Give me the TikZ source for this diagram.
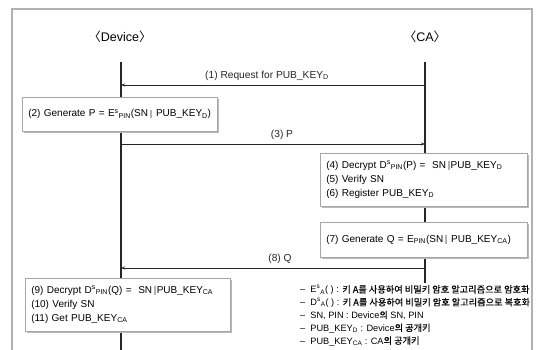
\documentclass[tikz,border=0pt]{standalone}
\usepackage{fontspec}
\setmainfont{Liberation Sans}
\newfontfamily\kr{Noto Sans CJK KR}[FakeBold=0.5]
\newfontfamily\krb{Noto Sans CJK KR}
\usetikzlibrary{shadows,arrows.meta}
\newcommand{\pbar}{\mbox{\kern1.5pt\textcolor{gray!60}{\rule[-0.12em]{0.3pt}{0.85em}\kern1pt\rule[-0.12em]{0.3pt}{0.85em}}\kern1.5pt}}
\tikzset{
  head/.style={font=\fontsize{12.5}{14}\selectfont, inner sep=0pt},
  life/.style={line width=1.3pt, black!85},
  msg/.style={line width=0.9pt, black!85, -{Stealth[length=4pt,width=3pt]}},
  lbl/.style={font=\fontsize{10.2}{12}\selectfont, inner sep=1pt},
  boxnode/.style={draw=gray!70, fill=white, line width=0.6pt,
    drop shadow={shadow xshift=1.5pt, shadow yshift=-1.5pt, fill=gray!55, opacity=1},
    font=\fontsize{10}{14}\selectfont, align=left, anchor=north west,
    inner xsep=6pt, inner ysep=0pt},
  leg/.style={font=\fontsize{9.2}{12.8}\selectfont, align=left, anchor=north west, inner sep=0pt}
}
\begin{document}
\begin{tikzpicture}[x=1pt,y=-1pt]
\useasboundingbox (0,0) rectangle (541,349);
\draw[gray!60, line width=1.2pt] (12,360) -- (12,9) -- (532,9) -- (532,360);
\node[head] (dev) at (120,37) {{\krb 〈}Device{\krb 〉}};
\node[head] (ca) at (425,37) {{\krb 〈}CA{\krb 〉}};
\coordinate (dtop) at (121,62);
\coordinate (dbot) at (121,352);
\coordinate (ctop) at (425,62);
\coordinate (cbot) at (425,283);
\draw[life] (dtop) -- (dbot);
\draw[life] (ctop) -- (cbot);
% messages
\coordinate (c1) at (425,85); \coordinate (d1) at (121,85);
\draw[msg] (c1) -- node[lbl, above=3pt, xshift=-6pt] {(1) Request for PUB\_KEY\textsubscript{D}} (d1);
\coordinate (d3) at (121,144); \coordinate (c3) at (425,144);
\draw[msg] (d3) -- node[lbl, above=3pt, xshift=9pt] {(3) P} (c3);
\coordinate (c8) at (425,268); \coordinate (d8) at (121,268);
\draw[msg] (c8) -- node[lbl, above=3pt, xshift=7pt] {(8) Q} (d8);
% boxes
\node[boxnode, text width=183pt, minimum height=34pt] (b2) at (22,97)
  {(2) Generate P = E\textsuperscript{s}\textsubscript{PIN}(SN\pbar\ PUB\_KEY\textsubscript{D})};
\node[boxnode, text width=195pt, minimum height=53pt] (b4) at (320,153)
  {(4) Decrypt D\textsuperscript{s}\textsubscript{PIN}(P) = \ SN\pbar PUB\_KEY\textsubscript{D}\\
   (5) Verify SN\\
   (6) Register PUB\_KEY\textsubscript{D}};
\node[boxnode, text width=195pt, minimum height=35pt] (b7) at (320,222)
  {(7) Generate Q = E\textsubscript{PIN}(SN\pbar\ PUB\_KEY\textsubscript{CA})};
\node[boxnode, text width=193pt, minimum height=53pt] (b9) at (25,278)
  {(9) Decrypt D\textsuperscript{s}\textsubscript{PIN}(Q) = \ SN\pbar PUB\_KEY\textsubscript{CA}\\
   (10) Verify SN\\
   (11) Get PUB\_KEY\textsubscript{CA}};
% legend
\node[leg] (lg) at (300,285)
  {-- \ E\textsuperscript{s}\textsubscript{A}( ) : {\kr 키 A를 사용하여 비밀키 암호 알고리즘으로 암호화}\\
   -- \ D\textsuperscript{s}\textsubscript{A}( ) : {\kr 키 A를 사용하여 비밀키 암호 알고리즘으로 복호화}\\
   -- \ SN, PIN : Device{\kr 의} SN, PIN\\
   -- \ PUB\_KEY\textsubscript{D} : Device{\kr 의 공개키}\\
   -- \ PUB\_KEY\textsubscript{CA} : CA{\kr 의 공개키}};
\end{tikzpicture}
\end{document}
